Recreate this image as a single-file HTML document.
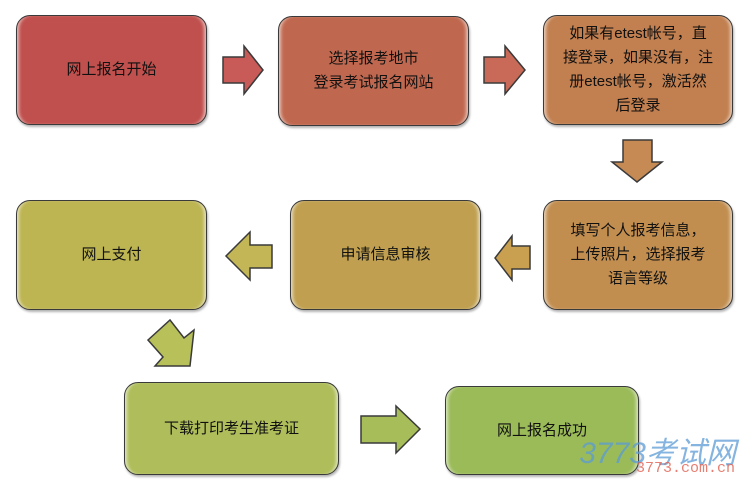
<!DOCTYPE html>
<html><head><meta charset="utf-8"><style>
body{margin:0;width:750px;height:492px;background:#fff;position:relative;overflow:hidden;font-family:"Liberation Sans","Noto Sans CJK SC",sans-serif}
.b{position:absolute;border:1.5px solid #3a3a3a;border-radius:14px;display:flex;align-items:center;justify-content:center;text-align:center;font-size:15px;line-height:24px;color:#111;box-sizing:border-box;box-shadow:inset 4px 0 3px -2px rgba(255,255,255,.6),inset -4px 0 3px -2px rgba(255,255,255,.6),1px 2px 2px rgba(0,0,0,.3)}
svg{position:absolute;left:0;top:0}
</style></head><body>
<div class="b" style="left:16px;top:15px;width:191px;height:110px;background:#c0504d">网上报名开始</div>
<div class="b" style="left:278px;top:16px;width:191px;height:110px;background:#c0684f">选择报考地市<br>登录考试报名网站</div>
<div class="b" style="left:543px;top:15px;width:190px;height:110px;background:#c27f4f;padding:0 18px">如果有etest帐号，直接登录，如果没有，注册etest帐号，激活然后登录</div>
<div class="b" style="left:543px;top:200px;width:190px;height:110px;background:#c28e50;padding:0 20px">填写个人报考信息，上传照片，选择报考语言等级</div>
<div class="b" style="left:290px;top:200px;width:191px;height:110px;background:#c0a050">申请信息审核</div>
<div class="b" style="left:16px;top:200px;width:191px;height:110px;background:#bdb452">网上支付</div>
<div class="b" style="left:124px;top:382px;width:215px;height:93px;background:#afbd5a">下载打印考生准考证</div>
<div class="b" style="left:445px;top:386px;width:194px;height:89px;background:#9bbb59">网上报名成功</div>
<svg width="750" height="492" stroke="#3a3a3a" stroke-width="1.5">
<polygon points="223,57 244,57 244,46 263,70 244,94 244,83 223,83" fill="#c85a57"/>
<polygon points="484,57 505,57 505,46 525,70 505,94 505,83 484,83" fill="#c86a57"/>
<polygon points="623,140 652,140 652,162 662,162 637,182 612,162 623,162" fill="#c68a55"/>
<polygon points="530,246 512,246 512,236 495,258 512,280 512,269 530,269" fill="#c9a050"/>
<polygon points="272,245 250,245 250,232 226,256 250,280 250,268 272,268" fill="#c2b656"/>
<polygon points="148,340 170,320 184,338 194,330 190,366 155,366 163,357" fill="#b8c05a"/>
<polygon points="361,416 396,416 396,406 420,429 396,453 396,443 361,443" fill="#a6bd5a"/>
</svg>
<div style="position:absolute;left:486px;top:428px;font:italic 30px 'Liberation Sans','Noto Sans CJK SC',sans-serif;color:#5b9bd5;opacity:.75;width:250px;text-align:right">3773考试网</div>
<div style="position:absolute;left:600px;top:460px;font:15px 'Liberation Mono',monospace;color:#e06050;opacity:.8;width:135px;text-align:right">3773.com.cn</div>
</body></html>
